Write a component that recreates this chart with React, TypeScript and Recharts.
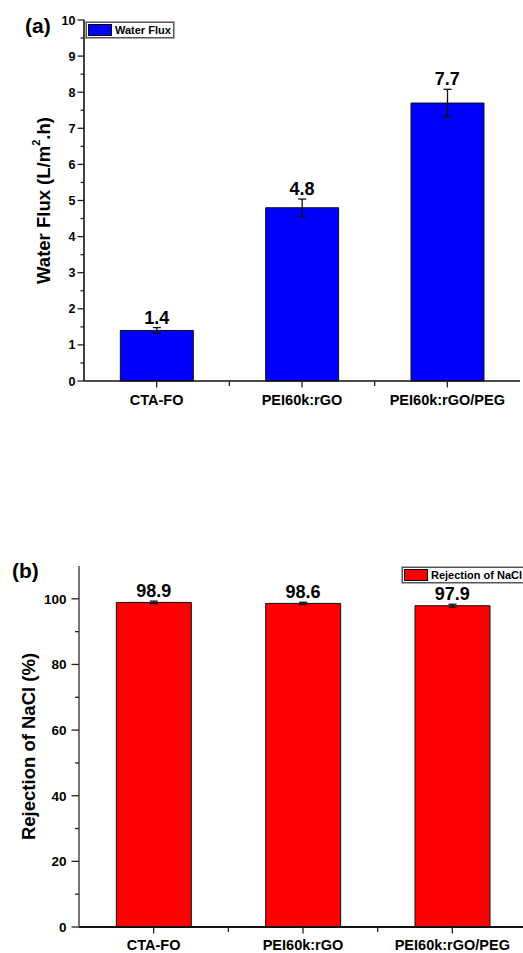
import React from 'react';
import {
  Bar,
  ComposedChart,
  ErrorBar,
  LabelList,
  Legend,
  Line,
  XAxis,
  YAxis,
} from 'recharts';

const FONT = 'Arial, "Liberation Sans", Helvetica, sans-serif';

// shared categories
const membranes = ['CTA-FO', 'PEI60k:rGO', 'PEI60k:rGO/PEG'];

// (a) water flux, L/m².h
const fluxValues = [1.4, 4.8, 7.7];
const fluxErrors = [0.08, 0.24, 0.38];
const fluxTicks = [0, 0.5, 1, 1.5, 2, 2.5, 3, 3.5, 4, 4.5, 5, 5.5, 6, 6.5, 7, 7.5, 8, 8.5, 9, 9.5, 10];

// (b) NaCl rejection, %
const rejectionValues = [98.9, 98.6, 97.9];
const rejectionErrors = [0.4, 0.35, 0.45];
const rejectionTicks = [0, 10, 20, 30, 40, 50, 60, 70, 80, 90, 100];

const fluxData = membranes.map((name, i) => ({
  name,
  value: fluxValues[i],
  err: fluxErrors[i],
  top: fluxValues[i] + fluxErrors[i],
}));

const rejectionData = membranes.map((name, i) => ({
  name,
  value: rejectionValues[i],
  err: rejectionErrors[i],
  top: rejectionValues[i] + rejectionErrors[i],
}));

// y ticks: labelled majors, short unlabelled minors in between
const makeYTick =
  (isMajor: (v: number) => boolean, majorLen: number, minorLen: number, gap: number, fontSize: number) =>
  (props: any) => {
    const { x, y, payload } = props;
    const major = isMajor(payload.value);
    const len = major ? majorLen : minorLen;
    return (
      <g>
        <line x1={x - len} y1={y} x2={x} y2={y} stroke="#222" strokeWidth={1.3} />
        {major && (
          <text
            x={x - len - gap}
            y={y}
            dy="0.36em"
            textAnchor="end"
            fontFamily={FONT}
            fontWeight="bold"
            fontSize={fontSize}
            fill="#000"
          >
            {payload.value}
          </text>
        )}
      </g>
    );
  };

// x ticks: major at band centre with label, minor at the band boundary
const makeXTick = (labelDy: number) => (props: any) => {
  const { x, y, payload, index, visibleTicksCount, width } = props;
  const band = Number(width) / visibleTicksCount;
  const last = index >= visibleTicksCount - 1;
  return (
    <g>
      <line x1={x} y1={y} x2={x} y2={y + 6.5} stroke="#222" strokeWidth={1.3} />
      {!last && Number.isFinite(band) && (
        <line x1={x + band / 2} y1={y} x2={x + band / 2} y2={y + 5} stroke="#222" strokeWidth={1.3} />
      )}
      <text
        x={x}
        y={y + labelDy}
        dy="0.36em"
        textAnchor="middle"
        fontFamily={FONT}
        fontWeight="bold"
        fontSize={14.5}
        fill="#000"
      >
        {payload.value}
      </text>
    </g>
  );
};

const YTitle = ({ viewBox, cx, children }: any) => {
  const x = viewBox.x + cx;
  const y = viewBox.y + viewBox.height / 2;
  return (
    <text
      x={x}
      y={y}
      transform={`rotate(-90 ${x} ${y})`}
      textAnchor="middle"
      dominantBaseline="central"
      fontFamily={FONT}
      fontWeight="bold"
      fontSize={18.5}
      fill="#000"
    >
      {children}
    </text>
  );
};

const LegendBox = ({ payload }: any) => {
  const item = (payload || [])[0];
  if (!item) return null;
  return (
    <div
      style={{
        display: 'inline-flex',
        alignItems: 'center',
        border: '1px solid #555',
        outline: '1px solid #aaa',
        background: '#fff',
        padding: '1px 2px 1px 1px',
        whiteSpace: 'nowrap',
        fontFamily: FONT,
        fontWeight: 'bold',
        fontSize: 11,
        lineHeight: '12px',
      }}
    >
      <span
        style={{
          display: 'inline-block',
          width: 22,
          height: 10,
          background: item.color,
          border: '1px solid #000',
          marginRight: 3,
        }}
      />
      {item.value}
    </div>
  );
};

const valueLabelStyle = {
  fontFamily: FONT,
  fontWeight: 'bold',
  fontSize: 18,
  fill: '#000',
};

const panelLabel: React.CSSProperties = {
  position: 'absolute',
  fontFamily: FONT,
  fontWeight: 'bold',
  fontSize: 21,
  lineHeight: '21px',
  color: '#000',
};

export default function App() {
  return (
    <div
      style={{
        position: 'absolute',
        left: 0,
        top: 0,
        width: 523,
        height: 953,
        overflow: 'hidden',
        background: '#fff',
      }}
    >
      {/* (a) water flux */}
      <div style={{ position: 'absolute', left: 0, top: 0 }}>
        <ComposedChart
          width={523}
          height={420}
          data={fluxData}
          margin={{ top: 20, right: 3, left: 0, bottom: 0 }}
          barCategoryGap="25%"
        >
          <XAxis
            dataKey="name"
            height={39}
            axisLine={{ stroke: '#111', strokeWidth: 1.6 }}
            tickLine={false}
            tickSize={0}
            tickMargin={0}
            interval={0}
            tick={makeXTick(19)}
          />
          <XAxis xAxisId="frame" dataKey="name" orientation="top" height={0} tick={false} tickLine={false} axisLine={{ stroke: '#333', strokeWidth: 1.2 }} />
          <YAxis
            width={84}
            domain={[0, 10]}
            ticks={fluxTicks}
            interval={0}
            axisLine={{ stroke: '#111', strokeWidth: 1.6 }}
            tickLine={false}
            tickSize={0}
            tickMargin={0}
            tick={makeYTick((v) => Number.isInteger(v), 6.5, 3.5, 2, 12.5)}
            label={
              <YTitle cx={43}>
                Water Flux (L/m
                <tspan fontSize={11} dy={-7}>2</tspan>
                <tspan dy={7}>.h)</tspan>
              </YTitle>
            }
          />
          <YAxis yAxisId="frame" orientation="right" width={0} domain={[0, 10]} tick={false} tickLine={false} axisLine={{ stroke: '#333', strokeWidth: 1.2 }} />
          <Legend
            layout="vertical"
            align="center"
            verticalAlign="middle"
            content={<LegendBox />}
            wrapperStyle={{ left: 86, top: 22, width: 'auto', height: 'auto' }}
          />
          <Bar
            dataKey="value"
            name="Water Flux"
            fill="#0000FF"
            stroke="#111"
            strokeWidth={1}
            isAnimationActive={false}
          >
            <ErrorBar dataKey="err" direction="y" width={4} stroke="#111" strokeWidth={1.3} />
          </Bar>
          <Line
            dataKey="top"
            stroke="none"
            dot={false}
            activeDot={false}
            legendType="none"
            isAnimationActive={false}
          >
            <LabelList dataKey="value" position="top" offset={4} style={valueLabelStyle} />
          </Line>
        </ComposedChart>
      </div>
      <div style={{ ...panelLabel, left: 25, top: 15 }}>(a)</div>

      {/* (b) NaCl rejection */}
      <div style={{ position: 'absolute', left: 0, top: 540 }}>
        <ComposedChart
          width={530}
          height={413}
          data={rejectionData}
          margin={{ top: 26, right: 3, left: 0, bottom: 0 }}
          barCategoryGap="25%"
        >
          <XAxis
            dataKey="name"
            height={26}
            axisLine={{ stroke: '#111', strokeWidth: 1.8 }}
            tickLine={false}
            tickSize={0}
            tickMargin={0}
            interval={0}
            tick={makeXTick(18)}
          />
          <XAxis xAxisId="frame" dataKey="name" orientation="top" height={0} tick={false} tickLine={false} axisLine={{ stroke: '#333', strokeWidth: 1.2 }} />
          <YAxis
            width={79}
            domain={[0, 110]}
            ticks={rejectionTicks}
            interval={0}
            axisLine={{ stroke: '#555', strokeWidth: 1.6 }}
            tickLine={false}
            tickSize={0}
            tickMargin={0}
            tick={makeYTick((v) => v % 20 === 0, 7.5, 4, 5, 13.5)}
            label={<YTitle cx={28}>Rejection of NaCl (%)</YTitle>}
          />
          <YAxis yAxisId="frame" orientation="right" width={0} domain={[0, 110]} tick={false} tickLine={false} axisLine={{ stroke: '#333', strokeWidth: 1.2 }} />
          <Legend
            layout="vertical"
            align="center"
            verticalAlign="middle"
            content={<LegendBox />}
            wrapperStyle={{ left: 402, top: 27, width: 'auto', height: 'auto' }}
          />
          <Bar
            dataKey="value"
            name="Rejection of NaCl"
            fill="#FF0000"
            stroke="#111"
            strokeWidth={1}
            isAnimationActive={false}
          >
            <ErrorBar dataKey="err" direction="y" width={4} stroke="#111" strokeWidth={1.3} />
          </Bar>
          <Line
            dataKey="top"
            stroke="none"
            dot={false}
            activeDot={false}
            legendType="none"
            isAnimationActive={false}
          >
            <LabelList dataKey="value" position="top" offset={4} style={valueLabelStyle} />
          </Line>
        </ComposedChart>
      </div>
      <div style={{ ...panelLabel, left: 12, top: 560 }}>(b)</div>
    </div>
  );
}
